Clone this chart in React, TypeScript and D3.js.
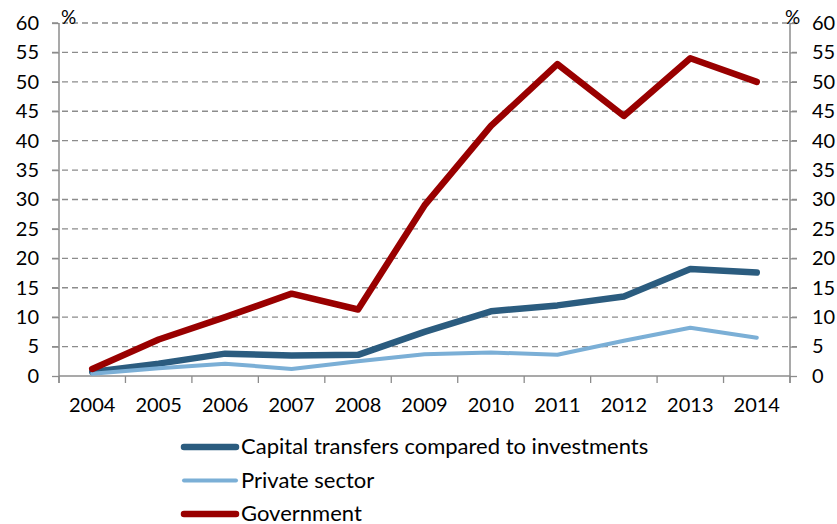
import { useEffect, useRef } from "react";
import * as d3 from "d3";

const years = ["2004", "2005", "2006", "2007", "2008", "2009", "2010", "2011", "2012", "2013", "2014"];
const capitalTransfers = [0.7, 2.1, 3.8, 3.5, 3.6, 7.5, 11.0, 12.0, 13.5, 18.2, 17.6];
const privateSector = [0.4, 1.3, 2.1, 1.2, 2.5, 3.7, 4.0, 3.6, 6.0, 8.2, 6.5];
const government = [1.2, 6.2, 10.0, 14.0, 11.3, 29.0, 42.5, 53.0, 44.2, 54.0, 50.0];
const yTicks = [0, 5, 10, 15, 20, 25, 30, 35, 40, 45, 50, 55, 60];

const SERIES = [
  { name: "Capital transfers compared to investments", values: capitalTransfers, color: "#2b5c7f", width: 6.5 },
  { name: "Private sector", values: privateSector, color: "#7bafd6", width: 4 },
  { name: "Government", values: government, color: "#990000", width: 6.5 },
];

// plot area
const PLOT = { left: 59, right: 790, top: 23, bottom: 376 };
const FONT = "Lato, 'Open Sans', sans-serif";
const AXIS = "#8c8c8c";

export default function App() {
  const svgRef = useRef<SVGSVGElement>(null);

  useEffect(() => {
    if (!svgRef.current) return;
    const svg = d3.select(svgRef.current);
    svg.selectAll("*").remove();

    const x = d3.scaleBand().domain(years).range([PLOT.left, PLOT.right]);
    const y = d3.scaleLinear().domain([0, 60]).range([PLOT.bottom, PLOT.top]);
    const cx = (d: string) => (x(d) ?? 0) + x.bandwidth() / 2;

    // dashed gridlines
    svg.append("g")
      .selectAll("line")
      .data(yTicks.filter((t) => t > 0))
      .join("line")
      .attr("x1", PLOT.left - 7)
      .attr("x2", PLOT.right + 7)
      .attr("y1", (d) => y(d))
      .attr("y2", (d) => y(d))
      .attr("stroke", AXIS)
      .attr("stroke-width", 1.3)
      .attr("stroke-dasharray", "6,4");

    // left / right axes
    const leftAxis = svg.append("g").attr("transform", `translate(${PLOT.left},0)`)
      .call(d3.axisLeft(y).tickValues(yTicks).tickSize(7).tickPadding(13));
    const rightAxis = svg.append("g").attr("transform", `translate(${PLOT.right},0)`)
      .call(d3.axisRight(y).tickValues(yTicks).tickSize(7).tickPadding(15));
    const xAxis = svg.append("g").attr("transform", `translate(0,${PLOT.bottom})`)
      .call(d3.axisBottom(x).tickSize(0).tickPadding(22));

    // category boundary ticks
    svg.append("g")
      .selectAll("line")
      .data(d3.range(years.length + 1))
      .join("line")
      .attr("x1", (i) => PLOT.left + i * x.step())
      .attr("x2", (i) => PLOT.left + i * x.step())
      .attr("y1", PLOT.bottom)
      .attr("y2", PLOT.bottom + 7)
      .attr("stroke", AXIS)
      .attr("stroke-width", 1.3);

    [leftAxis, rightAxis, xAxis].forEach((a) => {
      a.select(".domain").attr("stroke", AXIS).attr("stroke-width", 1.5);
      a.selectAll(".tick line").attr("stroke", AXIS).attr("stroke-width", 1.3);
      a.selectAll("text").attr("font-family", FONT).attr("font-size", 20).attr("fill", "#000");
    });
    leftAxis.select(".domain").attr("d", `M0,${PLOT.top}V${PLOT.bottom + 7}`);
    rightAxis.select(".domain").attr("d", `M0,${PLOT.top}V${PLOT.bottom + 7}`);
    xAxis.select(".domain").attr("d", `M${PLOT.left},0H${PLOT.right}`);

    // % units
    svg.append("text").attr("x", PLOT.left + 2).attr("y", 24).text("%")
      .attr("font-family", FONT).attr("font-size", 19);
    svg.append("text").attr("x", PLOT.right - 5).attr("y", 24).text("%")
      .attr("font-family", FONT).attr("font-size", 19);

    // series lines
    const line = d3.line<number>()
      .x((_, i) => cx(years[i]))
      .y((d) => y(d));
    SERIES.forEach((s) => {
      svg.append("path")
        .attr("d", line(s.values) ?? "")
        .attr("fill", "none")
        .attr("stroke", s.color)
        .attr("stroke-width", s.width)
        .attr("stroke-linecap", "round")
        .attr("stroke-linejoin", "round");
    });

    // legend
    const legend = svg.append("g").attr("transform", "translate(182,447)");
    SERIES.forEach((s, i) => {
      const g = legend.append("g").attr("transform", `translate(0,${i * 33.5})`);
      g.append("line")
        .attr("x1", 2).attr("x2", 54).attr("y1", 0).attr("y2", 0)
        .attr("stroke", s.color).attr("stroke-width", s.width)
        .attr("stroke-linecap", "round");
      g.append("text")
        .attr("x", 59).attr("y", 7)
        .attr("font-family", FONT).attr("font-size", 22)
        .text(s.name);
    });
  }, []);

  return (
    <svg
      ref={svgRef}
      width={837}
      height={524}
      style={{ position: "absolute", left: 0, top: 0, background: "#fff" }}
    />
  );
}
